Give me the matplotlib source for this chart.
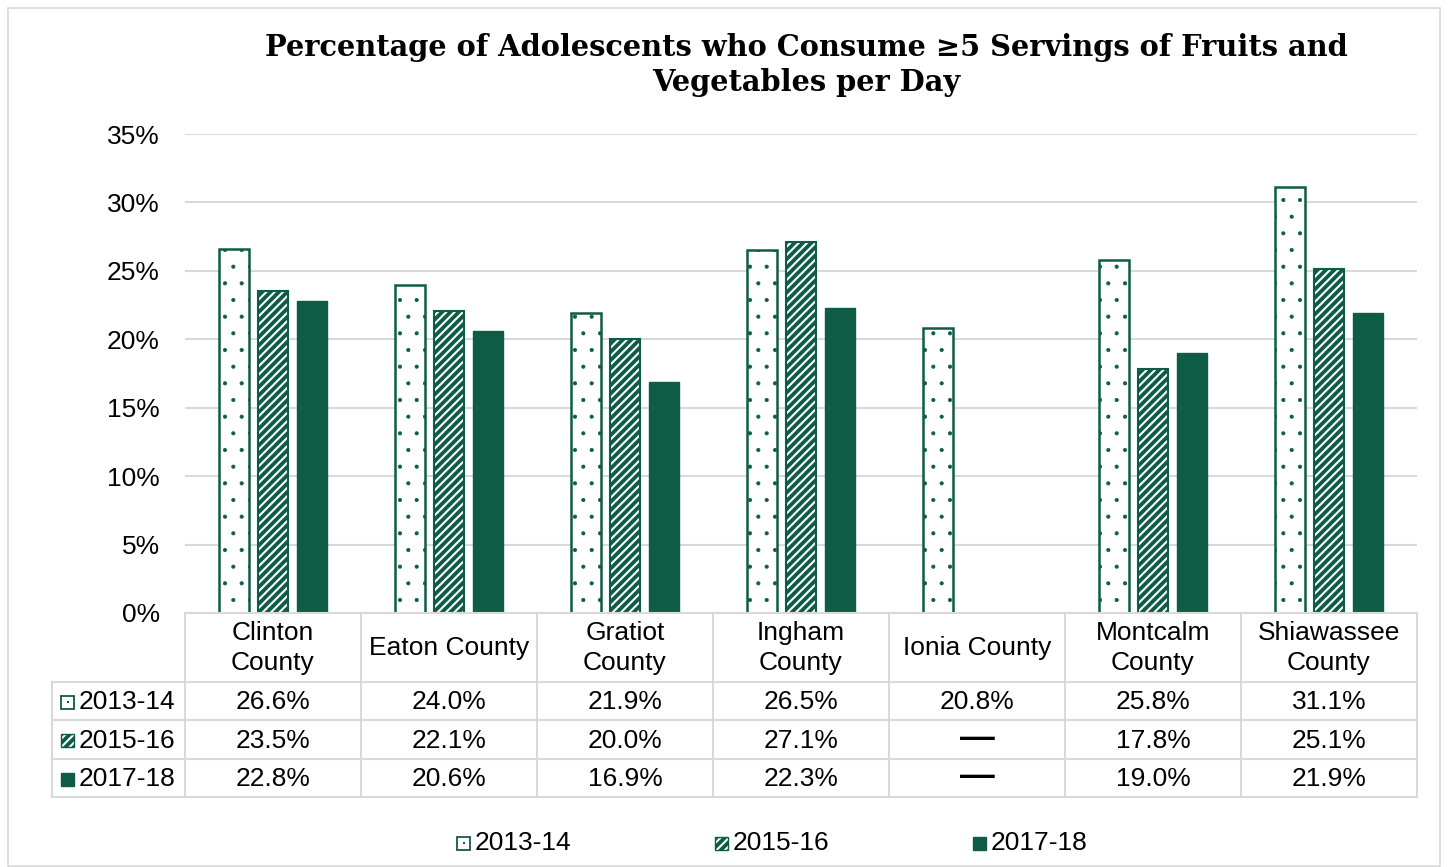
import matplotlib
matplotlib.use("Agg")
import matplotlib.pyplot as plt
from matplotlib.patches import Rectangle
from matplotlib.lines import Line2D
import numpy as np

categories = ["Clinton\nCounty", "Eaton County", "Gratiot\nCounty", "Ingham\nCounty",
              "Ionia County", "Montcalm\nCounty", "Shiawassee\nCounty"]
series_names = ["2013-14", "2015-16", "2017-18"]
v2013 = [26.6, 24.0, 21.9, 26.5, 20.8, 25.8, 31.1]
v2015 = [23.5, 22.1, 20.0, 27.1, np.nan, 17.8, 25.1]
v2017 = [22.8, 20.6, 16.9, 22.3, np.nan, 19.0, 21.9]
yticks = [0, 5, 10, 15, 20, 25, 30, 35]
title = "Percentage of Adolescents who Consume \u22655 Servings of Fruits and\nVegetables per Day"

GREEN = "#0E5C46"
GRID = "#D9D9D9"
W, H = 1448, 867
plt.rcParams["font.family"] = ["Liberation Sans", "DejaVu Sans"]
plt.rcParams["hatch.linewidth"] = 1.5

fig = plt.figure(figsize=(W / 100, H / 100), dpi=100)

def fx(px):
    return px / W

def fy(py):
    return 1 - py / H

def set_hlw(patches, lw):
    for p in patches:
        if hasattr(p, "set_hatch_linewidth"):
            p.set_hatch_linewidth(lw)

# outer border
fig.add_artist(Rectangle((fx(8), fy(866)), fx(1440) - fx(8), fy(8) - fy(866),
                         transform=fig.transFigure, fill=False, edgecolor=GRID, lw=1.2))

L, R, T, B = 185, 1417, 134, 613
ax = fig.add_axes([fx(L), fy(B), fx(R) - fx(L), fy(T) - fy(B)])
n = len(categories)
x = np.arange(n)
ax.set_xlim(-0.5, n - 0.5)
ax.set_ylim(0, 35)
ax.set_yticks(yticks)
fs = 19
ax.set_yticklabels([f"{t}%" for t in yticks], fontsize=fs)
ax.tick_params(axis="y", length=0, pad=18)
ax.set_xticks([])
for s in ax.spines.values():
    s.set_visible(False)
ax.grid(axis="y", color=GRID, lw=1.5)
ax.set_axisbelow(True)

off = 39 / 176
bw = 30 / 176
series = [v2013, v2015, v2017]
for i, vals in enumerate(series):
    xs = x + (i - 1) * off
    v = np.array(vals, dtype=float)
    if i == 0:
        with plt.rc_context({"hatch.linewidth": 0.5}):
            b = ax.bar(xs, v, bw, facecolor="white", edgecolor=GREEN, hatch=".", lw=0, zorder=2)
        set_hlw(b, 0.5)
        ax.bar(xs, v, bw, facecolor="none", edgecolor=GREEN, lw=1.8, zorder=3)
    elif i == 1:
        b = ax.bar(xs, v, bw, facecolor=GREEN, edgecolor="white", hatch="////", lw=0, zorder=2)
        ax.bar(xs, v, bw, facecolor="none", edgecolor=GREEN, lw=1.5, zorder=3)
    else:
        ax.bar(xs, v, bw, facecolor=GREEN, edgecolor=GREEN, lw=1.0, zorder=2)

# table
colw = (R - L) / n
rows_y = [613, 682, 720, 759, 797]
TL = 52
def hline(x0, x1, y):
    fig.add_artist(Line2D([fx(x0), fx(x1)], [fy(y), fy(y)], transform=fig.transFigure, color=GRID, lw=1.5))
def vline(xp, y0, y1):
    fig.add_artist(Line2D([fx(xp), fx(xp)], [fy(y0), fy(y1)], transform=fig.transFigure, color=GRID, lw=1.5))

hline(L, R, 613)
for yy in rows_y[1:]:
    hline(TL, R, yy)
vline(TL, 682, 797)
for k in range(n + 1):
    vline(L + k * colw, 613, 797)

for k, c in enumerate(categories):
    cx = L + (k + 0.5) * colw
    fig.text(fx(cx), fy(648), c, ha="center", va="center", fontsize=fs, linespacing=1.3)
    for r, vals in enumerate(series):
        cy = (rows_y[r + 1] + rows_y[r + 2]) / 2 + 1
        v = vals[k]
        if np.isnan(v):
            fig.text(fx(cx), fy(cy - 2), "\u2014", ha="center", va="center", fontsize=25, fontweight="bold")
        else:
            fig.text(fx(cx), fy(cy), f"{v:.1f}%", ha="center", va="center", fontsize=fs)

def key(xp, yc, idx):
    s = 13
    y0 = yc + s / 2
    if idx == 0:
        fig.add_artist(Rectangle((fx(xp), fy(y0)), s / W, s / H, transform=fig.transFigure,
                                 facecolor="white", edgecolor=GREEN, lw=1.3))
        fig.add_artist(Rectangle((fx(xp + s / 2 - 1), fy(yc + 1)), 2 / W, 2 / H, transform=fig.transFigure,
                                 facecolor=GREEN, edgecolor="none"))
    elif idx == 1:
        fig.add_artist(Rectangle((fx(xp), fy(y0)), s / W, s / H, transform=fig.transFigure,
                                 facecolor=GREEN, edgecolor="white", hatch="////", lw=0))
        fig.add_artist(Rectangle((fx(xp), fy(y0)), s / W, s / H, transform=fig.transFigure,
                                 facecolor="none", edgecolor=GREEN, lw=1.0))
    else:
        fig.add_artist(Rectangle((fx(xp), fy(y0)), s / W, s / H, transform=fig.transFigure,
                                 facecolor=GREEN, edgecolor=GREEN, lw=1.0))

for r, name in enumerate(series_names):
    cy = (rows_y[r + 1] + rows_y[r + 2]) / 2 + 1
    key(61, cy, r)
    fig.text(fx(79), fy(cy), name, ha="left", va="center", fontsize=fs)

# bottom legend
for r, (name, lx) in enumerate(zip(series_names, [457, 715, 973])):
    key(lx, 843, r)
    fig.text(fx(lx + 18), fy(843), name, ha="left", va="center", fontsize=fs)

fig.text(fx(806), fy(65), title, ha="center", va="center", fontsize=20.8,
         fontweight="bold", family=["DejaVu Serif"], linespacing=1.25)

fig.savefig("out.png", dpi=100)
